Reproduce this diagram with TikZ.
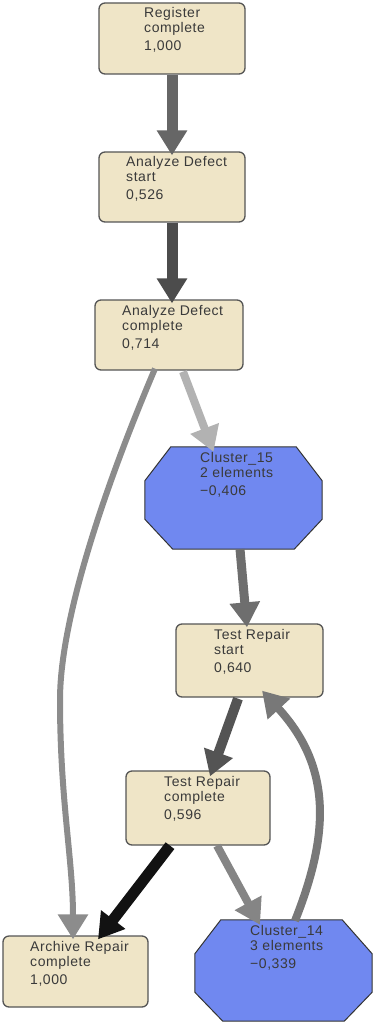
\documentclass[tikz,border=0pt]{standalone}
\usepackage{fontspec}
\newfontfamily\lblfont[LetterSpace=4]{Liberation Sans}
\usetikzlibrary{arrows.meta,calc}

\definecolor{boxfill}{HTML}{EFE5C7}
\definecolor{boxline}{HTML}{555555}
\definecolor{octfill}{HTML}{7088F0}
\definecolor{octline}{HTML}{333333}
\definecolor{txt}{HTML}{3A3A3A}

\tikzset{
  actbox/.style={draw=boxline, fill=boxfill, line width=1.3pt, rounded corners=6pt,
    inner sep=0pt, minimum width=#1},
  actbox/.default=146pt,
  octbox/.style={inner sep=0pt, minimum width=177pt},
  octshape/.style={draw=octline, fill=octfill, line width=1pt, line join=miter},
  lbl/.style={anchor=base west, inner sep=0pt, text=txt,
    font=\lblfont\fontsize{14}{15}\selectfont},
  flow/.style={line width=#1, -{Triangle[width=29pt,length=25pt]}},
}

% three-line label, baseline at the first line
\newcommand{\tripleline}[3]{\begin{tabular}[t]{@{}l@{}}#1\\#2\\[3pt]#3\end{tabular}}

\begin{document}
\begin{tikzpicture}[x=1pt,y=-1pt]
\useasboundingbox (0,0) rectangle (374,1024);

% activity boxes
\node[actbox, minimum height=71pt] (r)  at (172,38.5) {};
\node[actbox, minimum height=70pt] (as) at (172,187) {};
\node[actbox=148pt, minimum height=70pt] (ac) at (169,335) {};
\node[actbox=147pt, minimum height=73pt] (ts) at (249.5,660.5) {};
\node[actbox=144pt, minimum height=74pt] (tc) at (198,808) {};
\node[actbox=145pt, minimum height=71pt] (ar) at (75.5,971.5) {};

% cluster octagons
\node[octbox, minimum height=102pt] (c15) at (233.5,498) {};
\draw[octshape]
  ($(c15.north west)+(26,0)$) -- ($(c15.north east)+(-26,0)$)
  -- ($(c15.north east)+(0,34)$) -- ($(c15.south east)+(0,-30)$)
  -- ($(c15.south east)+(-28,0)$) -- ($(c15.south west)+(28,0)$)
  -- ($(c15.south west)+(0,-30)$) -- ($(c15.north west)+(0,34)$) -- cycle;
\node[octbox, minimum height=101pt] (c14) at (283.5,970.5) {};
\draw[octshape]
  ($(c14.north west)+(26,0)$) -- ($(c14.north east)+(-30,0)$)
  -- ($(c14.north east)+(0,34)$) -- ($(c14.south east)+(0,-29)$)
  -- ($(c14.south east)+(-28,0)$) -- ($(c14.south west)+(28,0)$)
  -- ($(c14.south west)+(0,-29)$) -- ($(c14.north west)+(0,34)$) -- cycle;

% labels
\node[lbl] (t1) at (144,18)  {\tripleline{Register}{complete}{1,000}};
\node[lbl] (t2) at (126,167) {\tripleline{Analyze Defect}{start}{0,526}};
\node[lbl] (t3) at (122,315) {\tripleline{Analyze Defect}{complete}{0,714}};
\node[lbl] (t4) at (200,462) {\tripleline{Cluster\_15}{2 elements}{−0,406}};
\node[lbl] (t5) at (214,639) {\tripleline{Test Repair}{start}{0,640}};
\node[lbl] (t6) at (164,786) {\tripleline{Test Repair}{complete}{0,596}};
\node[lbl] (t7) at (30,951)  {\tripleline{Archive Repair}{complete}{1,000}};
\node[lbl] (t8) at (250,935) {\tripleline{Cluster\_14}{3 elements}{−0,339}};

% connectors
\draw[flow=11pt, draw=black!60] (r.south) -- ($(as.north)+(0,4)$);
\draw[flow=11pt, draw=black!70] (as.south) -- ($(ac.north)+(3,4)$);
\draw[flow=8pt, draw=black!30] ($(ac.south)+(14,1)$) -- ($(c15.north)+(-20,5)$);
\draw[flow=6pt, draw=black!45] ($(ac.south)+(-14,-2)$)
  .. controls (128,432) and (60,600) .. (60,700)
  .. controls (60,800) and (73,860) .. ($(ar.north)+(-2.5,4)$);
\draw[flow=9pt, draw=black!57] ($(c15.south)+(6.5,0)$) -- ($(ts.north)+(-2.5,4)$);
\draw[flow=10pt, draw=black!67] ($(ts.south)+(-11.5,1)$) -- ($(tc.north)+(12,6)$);
\draw[flow=11pt, draw=black!93] ($(tc.south)+(-28,0)$) -- ($(ar.north)+(22.5,4)$);
\draw[flow=8pt, draw=black!48] ($(tc.south)+(19,0)$) -- ($(c14.north)+(-23.5,5)$);
\draw[flow=8pt, draw=black!53] ($(c14.north)+(11.5,1)$)
  .. controls (327,840) and (335,770) .. ($(ts.south)+(12.5,-7)$);
\end{tikzpicture}
\end{document}
